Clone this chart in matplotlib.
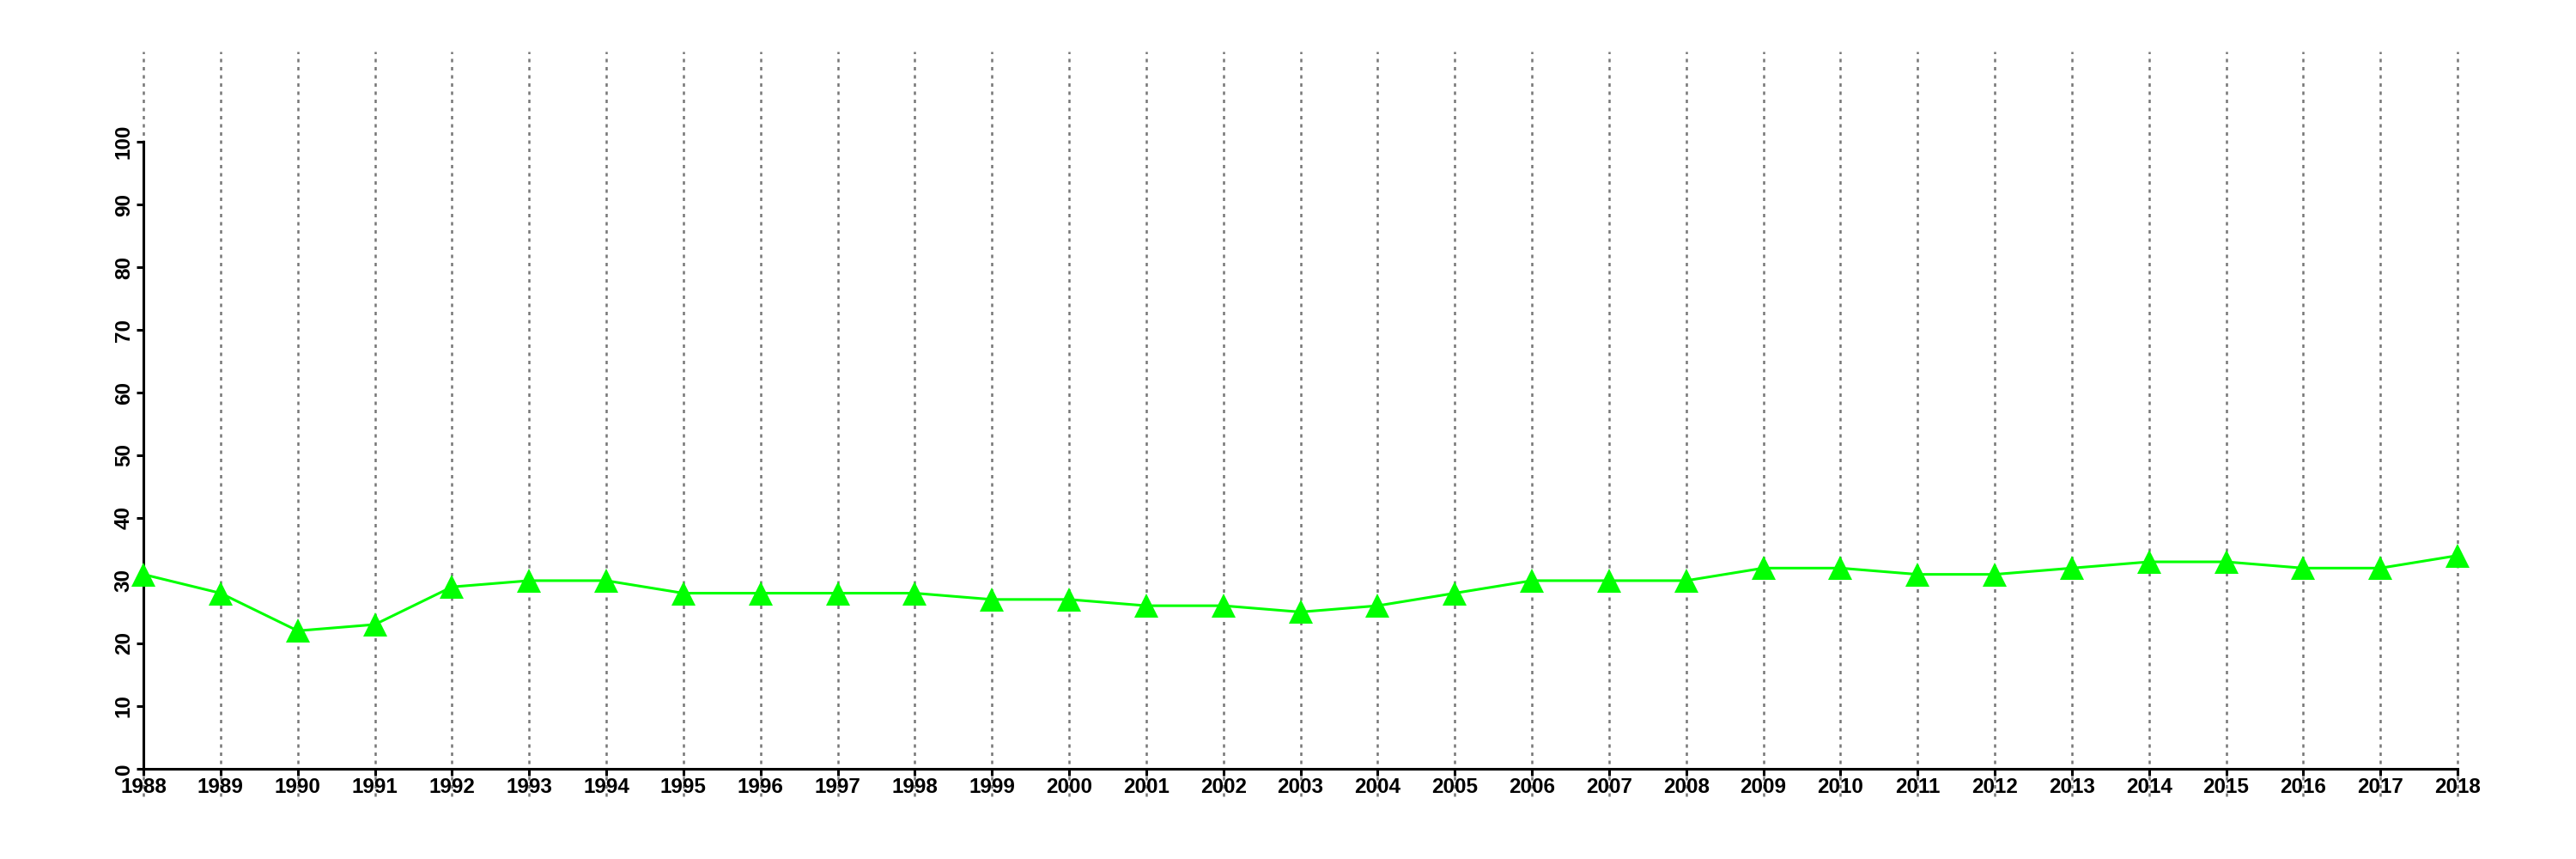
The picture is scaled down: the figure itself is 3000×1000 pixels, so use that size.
import matplotlib.pyplot as plt
import numpy as np

years = list(range(1988, 2019))
values = [31, 28, 22, 23, 29, 30, 30, 28, 28, 28, 28, 27, 27, 26, 26, 25,
          26, 28, 30, 30, 30, 32, 32, 31, 31, 32, 33, 33, 32, 32, 34]
yticks = list(range(0, 101, 10))

plt.rcParams['font.family'] = ['Liberation Sans', 'DejaVu Sans']

fig = plt.figure(figsize=(30, 10), dpi=100)
ax = fig.add_axes([167 / 3000, 0.073, 2695 / 3000, 0.867])

# dotted vertical guides at every year
for yr in years:
    ax.axvline(yr, color='#777777', lw=1.8, linestyle=(0, (1.6, 2.2)), zorder=1, clip_on=False)

ax.plot(years, values, color='#00ff00', lw=2.2, marker='^', ms=19.5,
        markeredgewidth=0, zorder=3, clip_on=False)

ax.set_xlim(1988, 2018)
ax.set_ylim(-4.4, 114.4)

for s in ['top', 'right']:
    ax.spines[s].set_visible(False)
ax.spines['left'].set_position(('data', 1988))
ax.spines['bottom'].set_position(('data', 0))
ax.spines['left'].set_bounds(0, 100)
ax.spines['bottom'].set_bounds(1988, 2018)
ax.spines['left'].set_linewidth(2.2)
ax.spines['bottom'].set_linewidth(2.2)

ax.set_xticks(years)
ax.set_xticklabels([str(y) for y in years], fontsize=17.5, fontweight='bold')
ax.set_yticks(yticks)
ax.set_yticklabels([str(v) for v in yticks], fontsize=17.5, fontweight='bold',
                   rotation=90, va='center')
ax.tick_params(axis='x', length=6, width=2.2, pad=1)
ax.tick_params(axis='y', length=6, width=2.2, pad=2)

fig.savefig('out.png', dpi=100, facecolor='white')
